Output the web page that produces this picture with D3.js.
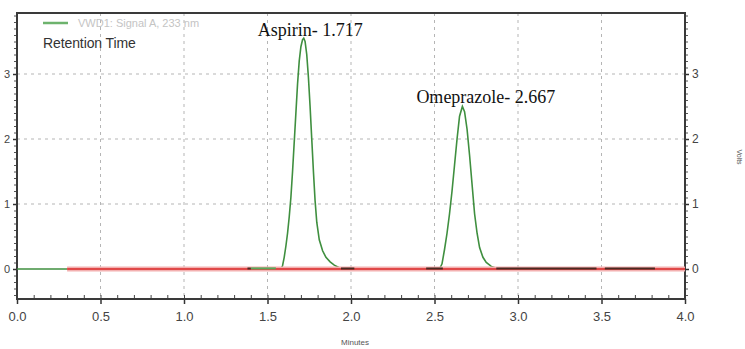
<!DOCTYPE html>
<html>
<head>
<script src="https://d3js.org/d3.v7.min.js"></script>
<style>
  body { margin: 0; background: white; }
  svg text { font-family: "Liberation Sans", Arial, sans-serif; }
  svg text.peak { font-family: "Liberation Serif", "Times New Roman", serif; }
  .grid line { stroke: #b5b5b5; stroke-dasharray: 3,4; }
</style>
</head>
<body>
<svg id="chart" width="745" height="349"></svg>
<script>
// x ticks (minutes) and y ticks (volts)
const xTicks = [0.0, 0.5, 1.0, 1.5, 2.0, 2.5, 3.0, 3.5, 4.0];
const yTicks = [0, 1, 2, 3];

// detector trace
const aspirinTime   = [1.50, 1.58, 1.59, 1.60, 1.61, 1.62, 1.63, 1.64, 1.65, 1.66, 1.67, 1.68, 1.69, 1.70, 1.71, 1.717, 1.725, 1.735, 1.745, 1.755, 1.765, 1.775, 1.785, 1.795, 1.81, 1.83, 1.85, 1.875, 1.90, 1.93, 1.96, 2.02];
const aspirinSignal = [0,    0,    0.05, 0.18, 0.35, 0.55, 0.80, 1.10, 1.50, 1.95, 2.40, 2.85, 3.20, 3.42, 3.53, 3.55,  3.50,  3.30,  2.95,  2.50,  2.00,  1.50,  1.05,  0.72,  0.45, 0.28, 0.18, 0.11,  0.06, 0.02, 0.005, 0];
const omeTime   = [2.45, 2.53, 2.545, 2.56, 2.575, 2.59, 2.605, 2.62, 2.635, 2.65, 2.667, 2.68, 2.695, 2.71, 2.725, 2.74, 2.755, 2.77, 2.79, 2.81, 2.84, 2.87, 2.88, 3.82];
const omeSignal = [0,    0,    0.08,  0.30, 0.55,  0.85, 1.20,  1.60, 2.00,  2.35, 2.50,  2.42, 2.15,  1.75, 1.30,  0.85, 0.55,  0.33, 0.18, 0.10, 0.04, 0.01, 0,    0];
const leadTime   = [0.0, 0.3];
const leadSignal = [0, 0];

// baseline (red) and integration marks (dark)
const baselineRange = [0.3, 4.0];
const integrationMarks = [[1.38, 1.40], [1.94, 2.02], [2.45, 2.55], [2.87, 3.47], [3.52, 3.82]];

const peakNames  = ["Aspirin- 1.717", "Omeprazole- 2.667"];
const peakTimes  = [1.717, 2.667];
const peakHeights = [3.55, 2.50];

const svg = d3.select("#chart");
const plotLeft = 17, plotRight = 685, plotTop = 13, plotBottom = 299;

const x = d3.scaleLinear().domain([0, 4]).range([plotLeft, plotRight]);
const y = d3.scaleLinear().domain([0, 3]).range([269, 74]);

// grid
const grid = svg.append("g").attr("class", "grid");
grid.selectAll("line.v").data(xTicks.filter(d => d > 0 && d < 4))
  .join("line").attr("class", "v")
  .attr("x1", d => x(d)).attr("x2", d => x(d))
  .attr("y1", plotTop).attr("y2", plotBottom);
grid.selectAll("line.h").data(yTicks.filter(d => d > 0))
  .join("line").attr("class", "h")
  .attr("x1", plotLeft).attr("x2", plotRight)
  .attr("y1", d => y(d)).attr("y2", d => y(d));

// axes with minor ticks
const minorX = d3.range(0, 41).map(i => i / 10);
const minorY = d3.range(-4, 40).map(i => i / 10);

const axisG = svg.append("g");
axisG.append("g").attr("transform", `translate(0,${plotBottom})`)
  .call(d3.axisBottom(x).tickValues(minorX).tickSize(-4).tickFormat(""))
  .call(g => g.select(".domain").remove())
  .selectAll("line").attr("stroke", "#444");
axisG.append("g").attr("transform", `translate(0,${plotBottom})`)
  .call(d3.axisBottom(x).tickValues(xTicks).tickSize(5).tickFormat(d3.format(".1f")))
  .call(g => g.select(".domain").remove())
  .call(g => g.selectAll("text").attr("font-size", 13).attr("fill", "#444").attr("dy", "1.05em"))
  .selectAll("line").attr("stroke", "#333").attr("stroke-width", 1.5);

axisG.append("g").attr("transform", `translate(${plotLeft},0)`)
  .call(d3.axisLeft(y).tickValues(minorY).tickSize(3).tickFormat(""))
  .call(g => g.select(".domain").remove())
  .selectAll("line").attr("stroke", "#555");
axisG.append("g").attr("transform", `translate(${plotLeft},0)`)
  .call(d3.axisLeft(y).tickValues(yTicks).tickSize(4).tickPadding(3).tickFormat(d3.format("d")))
  .call(g => g.select(".domain").remove())
  .call(g => g.selectAll("text").attr("font-size", 11).attr("fill", "#444"))
  .selectAll("line").attr("stroke", "#333").attr("stroke-width", 1.5);

axisG.append("g").attr("transform", `translate(${plotRight},0)`)
  .call(d3.axisRight(y).tickValues(minorY).tickSize(3).tickFormat(""))
  .call(g => g.select(".domain").remove())
  .selectAll("line").attr("stroke", "#555");
axisG.append("g").attr("transform", `translate(${plotRight},0)`)
  .call(d3.axisRight(y).tickValues(yTicks).tickSize(4).tickPadding(3).tickFormat(d3.format("d")))
  .call(g => g.select(".domain").remove())
  .call(g => g.selectAll("text").attr("font-size", 12).attr("fill", "#444"))
  .selectAll("line").attr("stroke", "#333").attr("stroke-width", 1.5);

// frame
svg.append("rect")
  .attr("x", plotLeft).attr("y", plotTop)
  .attr("width", plotRight - plotLeft).attr("height", plotBottom - plotTop)
  .attr("fill", "none").attr("stroke", "#3a3a3a").attr("stroke-width", 2);

const line = d3.line().x(d => x(d[0])).y(d => y(d[1]));
const green = "#3f8f3f";

// signal trace
[[leadTime, leadSignal], [aspirinTime, aspirinSignal], [omeTime, omeSignal]].forEach(([t, s]) => {
  svg.append("path")
    .datum(d3.zip(t, s))
    .attr("d", line)
    .attr("fill", "none")
    .attr("stroke", green)
    .attr("stroke-width", 1.6);
});

// baseline
svg.append("line")
  .attr("x1", x(baselineRange[0])).attr("x2", x(baselineRange[1]))
  .attr("y1", y(0)).attr("y2", y(0))
  .attr("stroke", "#f3b0b0").attr("stroke-width", 5);
svg.append("line")
  .attr("x1", x(baselineRange[0])).attr("x2", x(baselineRange[1]))
  .attr("y1", y(0)).attr("y2", y(0))
  .attr("stroke", "#e04848").attr("stroke-width", 2);

// short green stretch before aspirin
svg.append("line")
  .attr("x1", x(1.40)).attr("x2", x(1.55))
  .attr("y1", y(0.01)).attr("y2", y(0.01))
  .attr("stroke", "#5aa85a").attr("stroke-width", 2);

// integration marks
svg.selectAll("line.mark").data(integrationMarks)
  .join("line").attr("class", "mark")
  .attr("x1", d => x(d[0])).attr("x2", d => x(d[1]))
  .attr("y1", y(0) - 0.5).attr("y2", y(0) - 0.5)
  .attr("stroke", "#4a2a22").attr("stroke-width", 2);

// peak labels (start a little left of the apex)
const labelRise = [2, 4];
svg.selectAll("text.peak").data(peakNames)
  .join("text").attr("class", "peak")
  .attr("x", (d, i) => x(peakTimes[i]) - 46)
  .attr("y", (d, i) => y(peakHeights[i]) - labelRise[i])
  .attr("text-anchor", "start")
  .attr("font-size", 18)
  .attr("fill", "#111")
  .text(d => d);

// legend
svg.append("line")
  .attr("x1", 43).attr("x2", 68).attr("y1", 23).attr("y2", 23)
  .attr("stroke", "#6db36d").attr("stroke-width", 2.5);
svg.append("text")
  .attr("x", 78).attr("y", 27)
  .attr("font-size", 11).attr("fill", "#c4c4c4")
  .text("VWD1: Signal A, 233 nm");
svg.append("text")
  .attr("x", 43).attr("y", 48)
  .attr("font-size", 14).attr("fill", "#333")
  .attr("letter-spacing", "-0.1")
  .text("Retention Time");

// axis titles
svg.append("text")
  .attr("x", 355).attr("y", 345)
  .attr("text-anchor", "middle")
  .attr("font-size", 8).attr("fill", "#555")
  .text("Minutes");
svg.append("text")
  .attr("transform", "translate(737,157) rotate(90)")
  .attr("text-anchor", "middle")
  .attr("font-size", 7).attr("fill", "#555")
  .text("Volts");
</script>
</body>
</html>
